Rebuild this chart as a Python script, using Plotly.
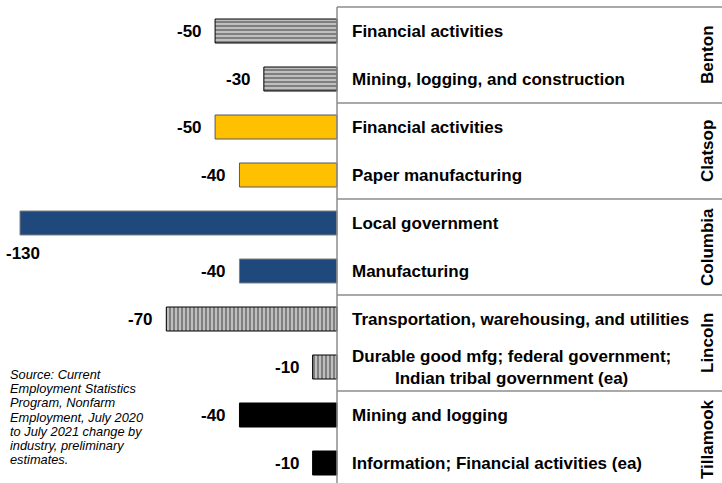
import plotly.graph_objects as go

counties = ["Benton", "Clatsop", "Columbia", "Lincoln", "Tillamook"]
industries = [
    "Financial activities",
    "Mining, logging, and construction",
    "Financial activities",
    "Paper manufacturing",
    "Local government",
    "Manufacturing",
    "Transportation, warehousing, and utilities",
    "Durable good mfg; federal government;<br>Indian tribal government (ea)",
    "Mining and logging",
    "Information; Financial activities (ea)",
]
row_county = ["Benton", "Benton", "Clatsop", "Clatsop", "Columbia", "Columbia",
              "Lincoln", "Lincoln", "Tillamook", "Tillamook"]
values = [-50, -30, -50, -40, -130, -40, -70, -10, -40, -10]

source_lines = ["Source: Current", "Employment Statistics", "Program, Nonfarm",
                "Employment, July 2020", "to July 2021 change by", "industry, preliminary",
                "estimates."]

styles = {
    "Benton": dict(color="white", line="black", pattern=dict(shape="-", fgcolor="black", bgcolor="white", size=4, solidity=0.75)),
    "Clatsop": dict(color="#FFC000", line="#595959", pattern=None),
    "Columbia": dict(color="#1F497D", line="#7F7F7F", pattern=None),
    "Lincoln": dict(color="white", line="black", pattern=dict(shape="|", fgcolor="black", bgcolor="white", size=4, solidity=0.75)),
    "Tillamook": dict(color="black", line="black", pattern=None),
}

FONT = "Liberation Sans, Arial, sans-serif"
W, H = 722, 483
ZERO_PX, MIN_PX = 337, 20
ROW0_PX, ROW_PX = 31, 48

fig = go.Figure()
rows = list(range(len(industries)))
for c in counties:
    idx = [i for i in rows if row_county[i] == c]
    st = styles[c]
    marker = dict(color=st["color"], line=dict(color=st["line"], width=1))
    if st["pattern"]:
        marker["pattern"] = st["pattern"]
    fig.add_trace(go.Bar(
        x=[values[i] for i in idx], y=idx, orientation="h", width=0.5,
        marker=marker, showlegend=False, hoverinfo="skip"))

vmin = min(values)
for i, v in zip(rows, values):
    if v == vmin:
        fig.add_annotation(x=v, y=i + 0.64, text="<b>%d</b>" % v, showarrow=False,
                           xanchor="left", xshift=-16, font=dict(size=17, color="black", family=FONT))
    else:
        fig.add_annotation(x=v, y=i, text="<b>%d</b>" % v, showarrow=False,
                           xanchor="right", xshift=-11, font=dict(size=17, color="black", family=FONT))
    fig.add_annotation(x=0, y=i, text="<b>%s</b>" % industries[i], showarrow=False,
                       xanchor="left", xshift=13, align="center",
                       font=dict(size=17, color="black", family=FONT))

# county group labels and separators
line_col = "#8C8C8C"
fig.add_shape(type="line", xref="x", yref="y", x0=0, x1=0, y0=-0.5, y1=len(rows) - 0.5,
              line=dict(color=line_col, width=1.5))
fig.add_shape(type="line", xref="x", yref="y", x0=0, x1=200, y0=-0.5, y1=-0.5,
              line=dict(color=line_col, width=1.5))
for k, c in enumerate(counties):
    idx = [i for i in rows if row_county[i] == c]
    mid = (idx[0] + idx[-1]) / 2
    fig.add_annotation(xref="paper", x=707 / W, y=mid, text="<b>%s</b>" % c, showarrow=False,
                       xanchor="center", yanchor="middle", textangle=-90,
                       font=dict(size=17, color="black", family=FONT))
    if k > 0:
        fig.add_shape(type="line", xref="x", yref="y", x0=0, x1=200, y0=idx[0] - 0.5, y1=idx[0] - 0.5,
                      line=dict(color=line_col, width=1.5))

for k, s in enumerate(source_lines):
    fig.add_annotation(xref="paper", yref="paper", x=0.011, y=1 - (374.5 + 14.2 * k) / H,
                       text="<i>%s</i>" % s, showarrow=False, xanchor="left", yanchor="middle",
                       align="left", font=dict(size=12.8, color="black", family=FONT))

px_per_unit = (ZERO_PX - MIN_PX) / float(-vmin)
fig.update_layout(
    width=W, height=H, margin=dict(l=0, r=0, t=0, b=0),
    plot_bgcolor="white", paper_bgcolor="white", barmode="overlay",
    xaxis=dict(range=[-ZERO_PX / px_per_unit, (W - ZERO_PX) / px_per_unit], visible=False, fixedrange=True),
    yaxis=dict(range=[(H - ROW0_PX) / float(ROW_PX), -ROW0_PX / float(ROW_PX)], visible=False, fixedrange=True),
)
fig.write_html("out.html", config={"displayModeBar": False},
               post_script="document.body.style.margin='0';document.body.style.overflow='hidden';")
